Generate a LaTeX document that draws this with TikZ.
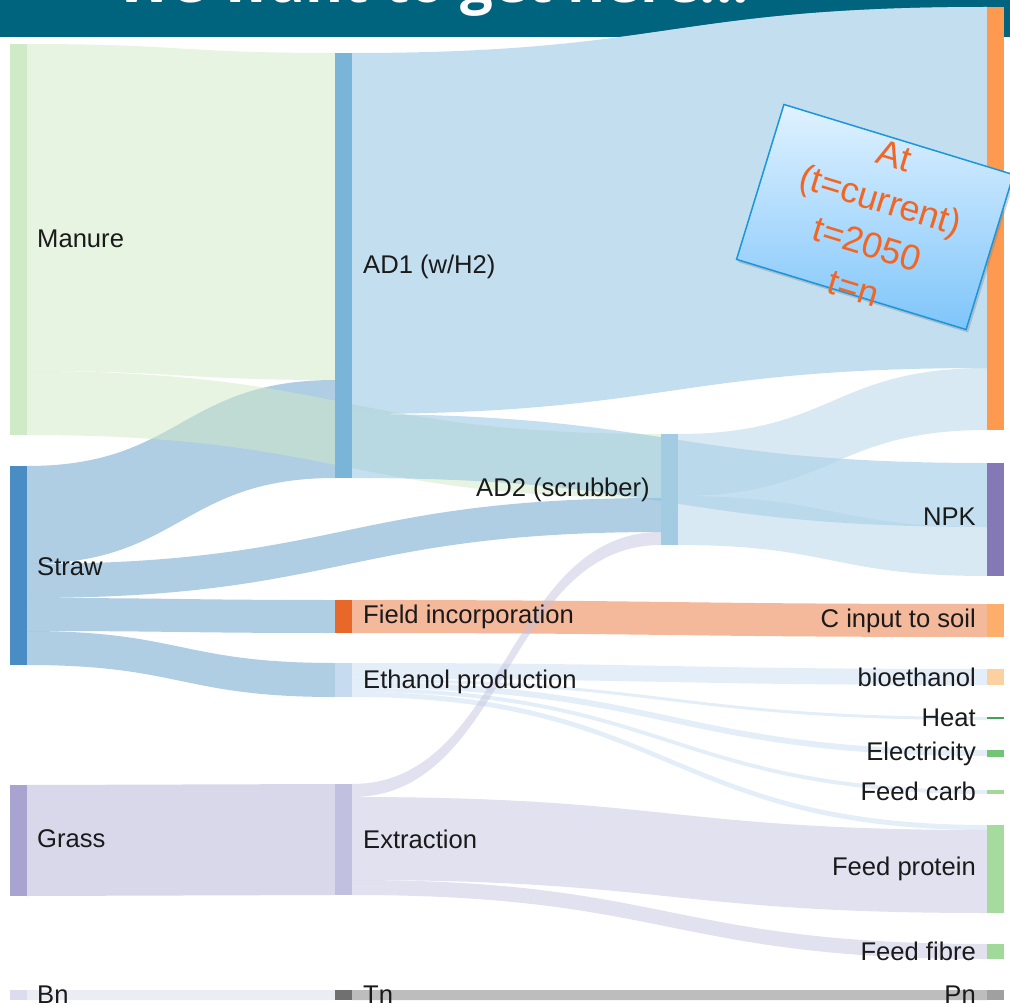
\documentclass[tikz,border=0pt]{standalone}
\usepackage{fontspec}
\setmainfont{Liberation Sans}
\newfontfamily\headfont{Open Sans}
\usetikzlibrary{calc,shadows}

% header
\definecolor{headbg}{HTML}{00647F}
% node bars
\definecolor{manureC}{HTML}{CFEAC7}
\definecolor{strawC}{HTML}{4A8DC4}
\definecolor{grassC}{HTML}{A9A4CF}
\definecolor{bnC}{HTML}{DCDCEE}
\definecolor{adoneC}{HTML}{7BB4D9}
\definecolor{fieldC}{HTML}{E8682A}
\definecolor{ethC}{HTML}{C6DBEF}
\definecolor{extC}{HTML}{C1C0E0}
\definecolor{tnC}{HTML}{707070}
\definecolor{adtwoC}{HTML}{A3CCE3}
\definecolor{outC}{HTML}{FD9A50}
\definecolor{npkC}{HTML}{8479B6}
\definecolor{cinC}{HTML}{FDAE6B}
\definecolor{bioC}{HTML}{FDD0A2}
\definecolor{heatC}{HTML}{41A35A}
\definecolor{elecC}{HTML}{74C476}
\definecolor{carbC}{HTML}{A1D99B}
\definecolor{protC}{HTML}{A6DBA0}
\definecolor{fibC}{HTML}{A1D99B}
\definecolor{pnC}{HTML}{A0A0A0}
% link colours (drawn at half opacity)
\definecolor{fManure}{HTML}{D1E9C5}
\definecolor{fStraw}{HTML}{5F9BC7}
\definecolor{fAdone}{HTML}{89BFE1}
\definecolor{fAdtwo}{HTML}{B1D3E7}
\definecolor{fField}{HTML}{E97135}
\definecolor{fEth}{HTML}{C9DDF1}
\definecolor{fExt}{HTML}{C5C3DF}
\definecolor{fGrass}{HTML}{B3B1D5}
\definecolor{fBn}{HTML}{D9D9E9}
\definecolor{fTn}{HTML}{7B7B7B}
% text
\definecolor{labeltext}{HTML}{1A1A1A}
\definecolor{notetext}{HTML}{F26522}
\definecolor{noteedge}{HTML}{1996DD}
\definecolor{notetop}{HTML}{E0F2FF}
\definecolor{notebottom}{HTML}{7FC5FA}

% a node bar: name, x, y, height, colour
\newcommand\sbar[5]{\node[bar, fill=#5, minimum height=#4pt] (#1) at (#2,#3) {};}
% a link: source, offset at source, target, offset at target, thickness, style
\newcommand\band[6]{%
  \path[#6] let \p1=($(#1.north east)+(0,#2)$), \p2=($(#3.north west)+(0,#4)$) in
    (\x1,\y1) .. controls ({0.5*(\x1+\x2)},\y1) and ({0.5*(\x1+\x2)},\y2) .. (\x2,\y2)
    -- (\x2,{\y2-#5pt})
    .. controls ({0.5*(\x1+\x2)},{\y2-#5pt}) and ({0.5*(\x1+\x2)},{\y1-#5pt}) .. (\x1,{\y1-#5pt})
    -- cycle;}
% all node bars of the chart
\newcommand\allbars{%
  \sbar{manure}{10}{44}{391}{manureC}
  \sbar{straw}{10}{466}{199}{strawC}
  \sbar{grass}{10}{785}{111}{grassC}
  \sbar{bn}{10}{990}{10}{bnC}
  \sbar{adone}{335}{53}{425}{adoneC}
  \sbar{field}{335}{600}{33}{fieldC}
  \sbar{eth}{335}{663}{34}{ethC}
  \sbar{ext}{335}{784}{111}{extC}
  \sbar{tn}{335}{990}{10}{tnC}
  \sbar{adtwo}{661}{434}{111}{adtwoC}
  \sbar{out}{987}{7}{423}{outC}
  \sbar{npk}{987}{463}{113}{npkC}
  \sbar{cin}{987}{604}{33}{cinC}
  \sbar{bio}{987}{669}{16}{bioC}
  \sbar{heat}{987}{717}{2}{heatC}
  \sbar{elec}{987}{750}{7}{elecC}
  \sbar{carb}{987}{790}{4}{carbC}
  \sbar{prot}{987}{825}{88}{protC}
  \sbar{fib}{987}{944}{15}{fibC}
  \sbar{pn}{987}{990}{10}{pnC}}

\begin{document}
\begin{tikzpicture}[x=1pt,y=-1pt,
  bar/.style={rectangle, inner sep=0pt, outer sep=0pt, minimum width=17pt, anchor=north west},
  lbl/.style={inner sep=0pt, text=labeltext, font=\fontsize{25.6}{30}\selectfont},
  lk/.style={fill=#1, fill opacity=0.5}]
\useasboundingbox (0,0) rectangle (1010,1006);
\clip (0,0) rectangle (1010,1006);

% title band
\fill[headbg] (0,0) rectangle (1010,37);
\node[anchor=base, inner sep=0pt, text=white,
      font=\headfont\bfseries\fontsize{58}{60}\selectfont] (title) at (433,3) {We want to get here...};

% node bars (placed first so the links can refer to them)
\allbars

% links
\band{adone}{0}{out}{0}{361}{fill=white}
\band{straw}{0}{adone}{327}{98}{lk=fStraw}
\band{straw}{98}{adtwo}{64}{34}{lk=fStraw}
\band{straw}{132}{field}{0}{33}{lk=fStraw}
\band{straw}{165}{eth}{0}{34}{lk=fStraw}
\band{manure}{0}{adone}{0}{327}{lk=fManure}
\band{manure}{327}{adtwo}{0}{64}{lk=fManure}
\band{adone}{0}{out}{0}{361}{lk=fAdone}
\band{adone}{361}{npk}{0}{64}{lk=fAdone}
\band{adtwo}{0}{out}{361}{62}{lk=fAdtwo}
\band{adtwo}{62}{npk}{64}{49}{lk=fAdtwo}
\band{field}{0}{cin}{0}{33}{lk=fField}
\band{eth}{0}{bio}{0}{16}{lk=fEth}
\band{eth}{16}{heat}{0}{3}{lk=fEth}
\band{eth}{19}{elec}{0}{6}{lk=fEth}
\band{eth}{25}{carb}{0}{4}{lk=fEth}
\band{eth}{29}{prot}{0}{5}{lk=fEth}
\band{grass}{0}{ext}{0}{111}{lk=fGrass}
\band{ext}{0}{adtwo}{98}{13}{lk=fExt}
\band{ext}{13}{prot}{5}{83}{lk=fExt}
\band{ext}{96}{fib}{0}{15}{lk=fExt}
\band{bn}{0}{tn}{0}{10}{lk=fBn}
\band{tn}{0}{pn}{0}{10}{lk=fTn}

% bars again, on top of the links
\allbars

% labels
\node[lbl, anchor=west] (manureL) at (37,239) {Manure};
\node[lbl, anchor=west] (strawL) at (37,567) {Straw};
\node[lbl, anchor=west] (grassL) at (37,839) {Grass};
\node[lbl, anchor=west] (bnL) at (37,995) {Bn};
\node[lbl, anchor=west] (adoneL) at (363,267) {AD1 (w/H2)};
\node[lbl, anchor=west] (fieldL) at (363,617) {Field incorporation};
\node[lbl, anchor=west] (ethL) at (363,682) {Ethanol production};
\node[lbl, anchor=west] (extL) at (363,839) {Extraction};
\node[lbl, anchor=west] (tnL) at (363,995) {Tn};
\node[lbl, anchor=east] (adtwoL) at (650,490) {AD2 (scrubber)};
\node[lbl, anchor=east] (npkL) at (976,517) {NPK};
\node[lbl, anchor=east] (cinL) at (976,621) {C input to soil};
\node[lbl, anchor=east] (bioL) at (976,677) {bioethanol};
\node[lbl, anchor=east] (heatL) at (976,718) {Heat};
\node[lbl, anchor=east] (elecL) at (976,754) {Electricity};
\node[lbl, anchor=east] (carbL) at (976,791) {Feed carb};
\node[lbl, anchor=east] (protL) at (976,869) {Feed protein};
\node[lbl, anchor=east] (fibL) at (976,951) {Feed fibre};
\node[lbl, anchor=east] (pnL) at (976,995) {Pn};

% tilted note
\node[rotate=-17, minimum width=240pt, minimum height=162pt, inner sep=0pt,
      draw=noteedge, line width=1.5pt, top color=notetop, bottom color=notebottom,
      drop shadow={shadow xshift=2pt, shadow yshift=-3pt, opacity=0.35}] (note) at (875,217) {};
\node[rotate=-17, align=center, inner sep=0pt, text=notetext,
      font=\fontsize{36}{46}\selectfont] (noteT) at (874,222) {At\\(t=current)\\t=2050\\t=n};
\end{tikzpicture}
\end{document}
